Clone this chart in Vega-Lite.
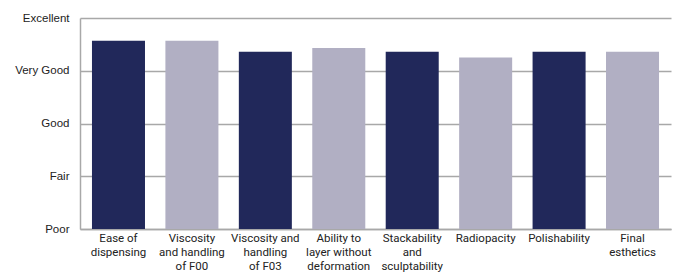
{
  "$schema": "https://vega.github.io/schema/vega-lite/v6.json",
  "width": 591,
  "height": 211,
  "autosize": {"type": "none"},
  "padding": {"left": 80, "top": 18, "right": 8, "bottom": 51},
  "background": "white",
  "data": {"values": [
    {"criterion": "Ease of|dispensing", "score": 4.57, "group": "A"},
    {"criterion": "Viscosity|and handling|of F00", "score": 4.57, "group": "B"},
    {"criterion": "Viscosity and|handling|of F03", "score": 4.36, "group": "A"},
    {"criterion": "Ability to|layer without|deformation", "score": 4.43, "group": "B"},
    {"criterion": "Stackability|and|sculptability", "score": 4.36, "group": "A"},
    {"criterion": "Radiopacity", "score": 4.25, "group": "B"},
    {"criterion": "Polishability", "score": 4.36, "group": "A"},
    {"criterion": "Final|esthetics", "score": 4.36, "group": "B"}
  ]},
  "config": {
    "view": {"stroke": null},
    "font": "Roboto"
  },
  "mark": {"type": "bar"},
  "encoding": {
    "x": {
      "field": "criterion",
      "type": "nominal",
      "sort": null,
      "scale": {"paddingInner": 0.278, "paddingOuter": 0.163},
      "axis": {
        "title": null,
        "labelAngle": 0,
        "labelExpr": "split(datum.label, '|')",
        "labelFont": "Roboto",
        "labelFontSize": 11.5,
        "labelColor": "#222222",
        "labelLineHeight": 14,
        "labelPadding": 9,
        "ticks": false,
        "domainColor": "#a8a8a8",
        "domainWidth": 1.5,
        "labelBaseline": "middle"
      }
    },
    "y": {
      "field": "score",
      "type": "quantitative",
      "scale": {"domain": [1, 5], "nice": false, "zero": false},
      "axis": {
        "title": null,
        "values": [1, 2, 3, 4, 5],
        "labelExpr": "['', 'Poor', 'Fair', 'Good', 'Very Good', 'Excellent'][datum.value]",
        "labelFont": "Liberation Sans",
        "labelFontSize": 11.5,
        "labelColor": "#222222",
        "labelPadding": 11,
        "ticks": false,
        "grid": true,
        "gridColor": "#a8a8a8",
        "gridWidth": 1.5,
        "domainColor": "#a8a8a8",
        "domainWidth": 1.5
      }
    },
    "y2": {"datum": 1},
    "color": {
      "field": "group",
      "type": "nominal",
      "scale": {"domain": ["A", "B"], "range": ["#21285a", "#b1afc3"]},
      "legend": null
    }
  }
}
